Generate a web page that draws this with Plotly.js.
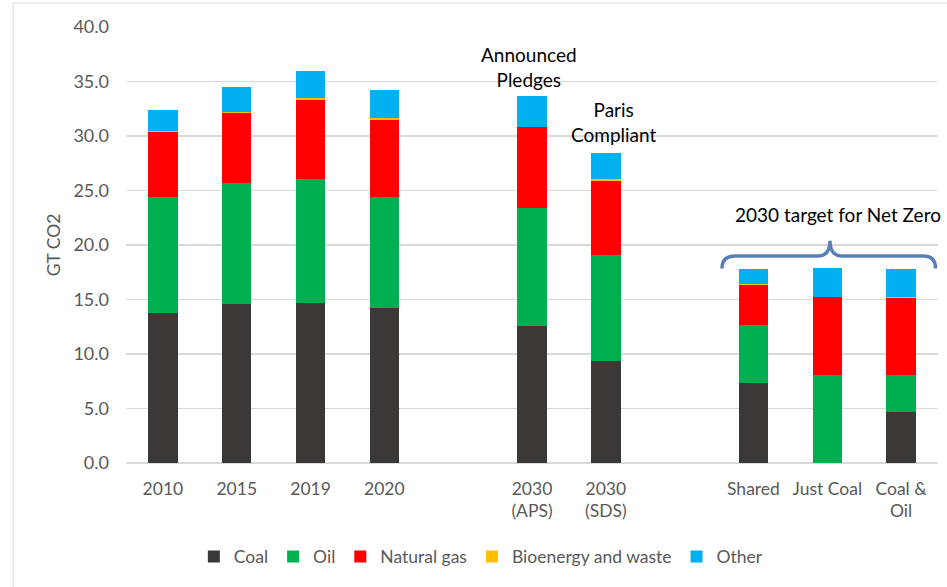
<!DOCTYPE html>
<html>
<head>
<meta charset="utf-8">
<script src="https://cdn.plot.ly/plotly-3.0.1.min.js"></script>
<style>html,body{margin:0;padding:0;background:#fff;}#chart{width:947px;height:587px;}</style>
</head>
<body>
<div id="chart"></div>
<script>
// Categories (blank entries are spacer slots between groups)
const categories = ['2010', '2015', '2019', '2020', '2030<br>(APS)', '2030<br>(SDS)', 'Shared', 'Just Coal', 'Coal &amp;<br>Oil'];
const categoryOrder = ['2010', '2015', '2019', '2020', ' ', '2030<br>(APS)', '2030<br>(SDS)', '  ', 'Shared', 'Just Coal', 'Coal &amp;<br>Oil'];

// Series values (GT CO2)
const coal       = [13.8, 14.6, 14.7, 14.2, 12.6, 9.4, 7.35, 0.0, 4.65];
const oil        = [10.6, 11.1, 11.4, 10.2, 10.8, 9.7, 5.3, 8.1, 3.4];
const naturalGas = [6.0, 6.4, 7.2, 7.1, 7.4, 6.8, 3.7, 7.1, 7.1];
const bioenergy  = [0.08, 0.1, 0.15, 0.15, 0.05, 0.15, 0.05, 0.05, 0.05];
const other      = [1.9, 2.3, 2.5, 2.55, 2.8, 2.4, 1.4, 2.6, 2.6];

const seriesNames = ['Coal', 'Oil', 'Natural gas', 'Bioenergy and waste', 'Other'];
const seriesValues = [coal, oil, naturalGas, bioenergy, other];
const seriesColors = ['#3b3836', '#00b050', '#ff0000', '#ffc000', '#00b0f0'];

const FONT = 'Lato, "Open Sans", sans-serif';

const traces = seriesNames.map((name, i) => ({
  type: 'bar',
  name: name,
  x: categories,
  y: seriesValues[i],
  marker: {color: seriesColors[i], line: {width: 0}},
  hoverinfo: 'name+y'
}));

const layout = {
  width: 947,
  height: 587,
  barmode: 'stack',
  bargap: 0.6,
  paper_bgcolor: '#ffffff',
  plot_bgcolor: '#ffffff',
  font: {family: FONT, size: 17.5, color: '#595959'},
  margin: {l: 126, r: 9, t: 27, b: 124},
  showlegend: true,
  legend: {
    orientation: 'h',
    x: 0.437, xanchor: 'center',
    y: -0.215, yanchor: 'middle',
    font: {family: FONT, size: 17.5, color: '#595959'},
    traceorder: 'normal',
    itemwidth: 30
  },
  xaxis: {
    type: 'category',
    categoryorder: 'array',
    categoryarray: categoryOrder,
    range: [-0.5, 10.5],
    showgrid: false,
    zeroline: false,
    showline: false,
    ticks: '',
    ticklabelstandoff: 13,
    tickfont: {family: FONT, size: 17.5, color: '#595959'}
  },
  yaxis: {
    range: [0, 40],
    dtick: 5,
    tickformat: '.1f',
    showgrid: true,
    gridcolor: '#d9d9d9',
    gridwidth: 1.5,
    zeroline: true,
    zerolinecolor: '#d9d9d9',
    zerolinewidth: 1.5,
    showline: false,
    ticks: '',
    ticklabelstandoff: 16,
    tickfont: {family: FONT, size: 18, color: '#595959'},
    title: {text: 'GT CO2', standoff: 8, font: {family: FONT, size: 17.5, color: '#595959'}}
  },
  annotations: [
    {xref: 'x', yref: 'y', x: '2030<br>(APS)', y: 33.6, yanchor: 'bottom', xshift: -3, yshift: 4,
     text: 'Announced<br>Pledges', showarrow: false, align: 'center',
     font: {family: FONT, size: 19, color: '#000000'}},
    {xref: 'x', yref: 'y', x: '2030<br>(SDS)', y: 28.5, yanchor: 'bottom', xshift: 8, yshift: 4,
     text: 'Paris<br>Compliant', showarrow: false, align: 'center',
     font: {family: FONT, size: 19, color: '#000000'}},
    {xref: 'paper', yref: 'y', x: 0.877, y: 22.8, xanchor: 'center', yanchor: 'middle',
     text: '2030 target for Net Zero', showarrow: false,
     font: {family: FONT, size: 19, color: '#000000'}}
  ],
  shapes: [
    {type: 'path', xref: 'paper', yref: 'y',
     path: 'M 0.734,17.85 Q 0.734,19.0 0.75,19.0 L 0.852,19.0 Q 0.867,19.0 0.867,20.4 Q 0.867,19.0 0.882,19.0 L 0.982,19.0 Q 0.997,19.0 0.997,17.85',
     line: {color: '#5a7fb8', width: 3.5}},
    {type: 'rect', xref: 'paper', yref: 'paper', x0: -0.139, x1: 1.2, y0: -0.3, y1: 1.055,
     line: {color: '#d9d9d9', width: 1}, layer: 'below'}
  ]
};

Plotly.newPlot('chart', traces, layout, {displayModeBar: false, staticPlot: true});
</script>
</body>
</html>
